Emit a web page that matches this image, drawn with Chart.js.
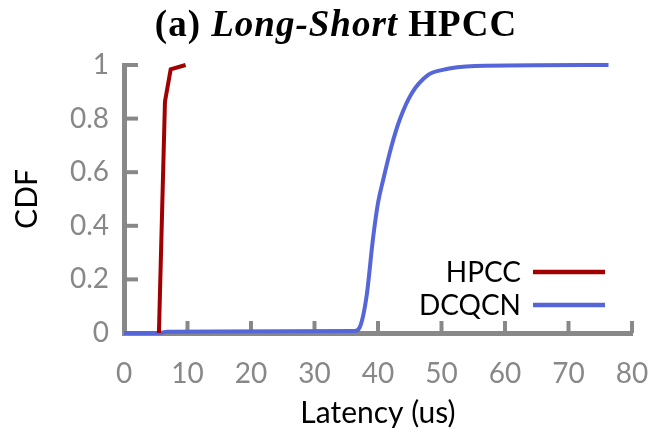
<!DOCTYPE html>
<html>
<head>
<meta charset="utf-8">
<script src="https://cdn.jsdelivr.net/npm/chart.js@4/dist/chart.umd.min.js"></script>
<style>
  html, body { margin: 0; padding: 0; background: #fff; }
  #wrap { position: relative; width: 656px; height: 439px; }
  #title { position: absolute; top: 4px; left: 336px; transform: translateX(-50%);
    font-family: "Liberation Serif", "DejaVu Serif", serif; font-weight: bold; font-size: 37px;
    letter-spacing: 1px; white-space: nowrap; color: #000; line-height: 1.1; }
  canvas { position: absolute; left: 0; top: 0; }
</style>
</head>
<body>
<div id="wrap">
  <canvas id="c" width="656" height="439"></canvas>
  <div id="title">(a) <i>Long-Short</i> HPCC</div>
</div>
<script>
const seriesNames = ["HPCC", "DCQCN"];
const hpccX = [5.5, 6.45, 7.35, 9.7];
const hpccY = [0, 0.863, 0.984, 1.0];
const dcqcnX = [0, 5.5, 6.8, 36.3, 37.1, 38.2, 39.2, 40.0, 40.8, 42.1, 43.4, 45.3, 47.9, 50.0, 55.3, 76.3];
const dcqcnY = [0, 0, 0.005, 0.007, 0.02, 0.137, 0.35, 0.485, 0.57, 0.695, 0.795, 0.894, 0.963, 0.981, 0.996, 1.0];
const xTicks = [0, 10, 20, 30, 40, 50, 60, 70, 80];
const yTicks = [0, 0.2, 0.4, 0.6, 0.8, 1];
const xTitle = "Latency (us)";
const yTitle = "CDF";

const colors = ["#a00000", "#5566d8"];
const axisColor = "#888888";
const labelFont = "Lato";

function pts(xs, ys) { return xs.map((x, i) => ({x: x, y: ys[i]})); }

const innerTicks = {
  id: 'innerTicks',
  beforeDatasetsDraw(chart) {
    const ctx = chart.ctx;
    const xs = chart.scales.x, ys = chart.scales.y;
    const ca = chart.chartArea;
    ctx.save();
    ctx.strokeStyle = axisColor;
    ctx.lineWidth = 4;
    xTicks.forEach(v => {
      if (v === xs.min) return;
      const px = xs.getPixelForValue(v);
      ctx.beginPath(); ctx.moveTo(px, ca.bottom); ctx.lineTo(px, ca.bottom - 12); ctx.stroke();
    });
    yTicks.forEach(v => {
      if (v === ys.min) return;
      const py = ys.getPixelForValue(v);
      ctx.beginPath(); ctx.moveTo(ca.left, py); ctx.lineTo(ca.left + 14, py); ctx.stroke();
    });
    ctx.restore();
  }
};

const customLegend = {
  id: 'customLegend',
  afterDatasetsDraw(chart) {
    const ctx = chart.ctx;
    const ca = chart.chartArea;
    ctx.save();
    ctx.font = "28px " + labelFont;
    ctx.textAlign = "right";
    ctx.textBaseline = "middle";
    const textRight = ca.right - 111;
    const lineStart = ca.right - 99;
    const lineEnd = ca.right - 27;
    const rows = [ca.bottom - 61, ca.bottom - 28];
    chart.data.datasets.forEach((ds, i) => {
      ctx.fillStyle = "#000";
      ctx.fillText(ds.label, textRight, rows[i] + 1);
      ctx.strokeStyle = ds.borderColor;
      ctx.lineWidth = 4.5;
      ctx.beginPath(); ctx.moveTo(lineStart, rows[i]); ctx.lineTo(lineEnd, rows[i]); ctx.stroke();
    });
    ctx.restore();
  }
};

new Chart(document.getElementById('c'), {
  type: 'scatter',
  data: {
    datasets: [
      { label: seriesNames[0], data: pts(hpccX, hpccY), showLine: true, borderColor: colors[0],
        backgroundColor: colors[0], borderWidth: 4, pointRadius: 0, clip: false, tension: 0 },
      { label: seriesNames[1], data: pts(dcqcnX, dcqcnY), showLine: true, borderColor: colors[1],
        backgroundColor: colors[1], borderWidth: 4, pointRadius: 0, clip: false, cubicInterpolationMode: 'monotone' }
    ]
  },
  options: {
    responsive: false,
    animation: false,
    layout: { padding: { top: 65, right: 24, left: 0, bottom: 0 } },
    plugins: { legend: { display: false }, title: { display: false }, tooltip: { enabled: false } },
    scales: {
      x: {
        type: 'linear', min: 0, max: 80,
        afterBuildTicks: s => { s.ticks = xTicks.map(v => ({value: v})); },
        afterFit: s => { s.height = 106; s.paddingLeft = 0; s.paddingRight = 0; },
        grid: { display: false, drawTicks: false },
        border: { display: true, color: axisColor, width: 5 },
        ticks: { color: axisColor, font: { family: labelFont, size: 28 }, padding: 24, maxRotation: 0 },
        title: { display: true, text: xTitle, color: '#000', font: { family: labelFont, size: 30 }, padding: { top: 0, bottom: 8 } }
      },
      y: {
        type: 'linear', min: 0, max: 1,
        afterBuildTicks: s => { s.ticks = yTicks.map(v => ({value: v})); },
        afterFit: s => { s.width = 124; s.paddingTop = 0; s.paddingBottom = 0; },
        grid: { display: false, drawTicks: false },
        border: { display: true, color: axisColor, width: 5 },
        ticks: { color: axisColor, font: { family: labelFont, size: 28 }, padding: 15, callback: v => String(v) },
        title: { display: true, text: yTitle, color: '#000', font: { family: labelFont, size: 30 }, padding: { top: 9, bottom: 0 } }
      }
    }
  },
  plugins: [innerTicks, customLegend]
});
</script>
</body>
</html>
